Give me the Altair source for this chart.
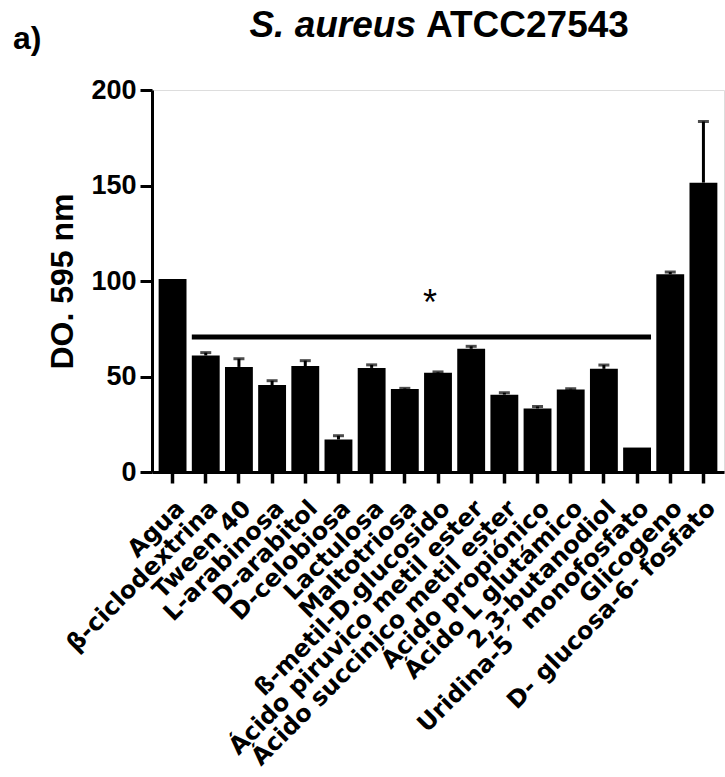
import altair as alt
import pandas as pd

categories = ["Agua", "β-ciclodextrina", "Tween 40", "L-arabinosa", "D-arabitol",
              "D-celobiosa", "Lactulosa", "Maltotriosa", "ß-metil-D.glucosido",
              "Ácido piruvico metil ester", "Ácido succinico metil ester",
              "Ácido propiónico", "Ácido L glutámico", "2,3-butanodiol",
              "Uridina-5´ monofosfato", "Glicogeno", "D- glucosa-6- fosfato"]
means = [101, 61, 55, 45.5, 55.5, 17, 54.5, 43.5, 52, 64.5, 40.5, 33.3, 43.2, 54, 12.8, 103.5, 151.5]
errs = [0, 1.5, 4.3, 2.3, 2.8, 2.0, 1.6, 0.3, 0.4, 1.3, 1.0, 1.0, 0.4, 2.0, 0, 1.2, 32]

sig_start = "β-ciclodextrina"
sig_end = "Uridina-5´ monofosfato"
sig_y = 70.7
star_cat = "ß-metil-D.glucosido"
star_y = 82

df = pd.DataFrame({"cat": categories, "mean": means, "err": errs})
df["top"] = df["mean"] + df["err"]

xscale = alt.Scale(domain=categories, paddingInner=0.16, paddingOuter=0.2)
yscale = alt.Scale(domain=[0, 200], nice=False)

x_enc = alt.X("cat:N", scale=xscale, sort=categories, title=None,
              axis=alt.Axis(labelAngle=-45, labelFont="DejaVu Sans", labelFontWeight="bold",
                            labelFontSize=24, labelColor="black", labelPadding=13,
                            domainColor="black", domainWidth=3, tickColor="black",
                            tickWidth=3.5, tickSize=11, labelLimit=500))
y_enc = alt.Y("mean:Q", scale=yscale, title="DO. 595 nm",
              axis=alt.Axis(values=[0, 50, 100, 150, 200], labelFont="Liberation Sans",
                            labelFontWeight="bold", labelFontSize=27, labelColor="black",
                            labelPadding=4, domainColor="black", domainWidth=3,
                            tickColor="black", tickWidth=3, tickSize=12, grid=False,
                            titleFont="Liberation Sans", titleFontWeight="bold",
                            titleFontSize=32, titleColor="black", titleX=-90,
                            titleBaseline="middle"))

base = alt.Chart(df)
bars = base.mark_bar(color="black").encode(x=x_enc, y=y_enc)
err_df = df[df["err"] > 0]
stems = alt.Chart(err_df).mark_rule(color="black", strokeWidth=3).encode(
    x=alt.X("cat:N", scale=xscale, sort=categories), y="mean:Q", y2="top:Q")
caps = alt.Chart(err_df).mark_tick(color="black", thickness=3, size=11, orient="horizontal").encode(
    x=alt.X("cat:N", scale=xscale, sort=categories), y=alt.Y("top:Q", scale=yscale))

sig = alt.Chart(pd.DataFrame({"a": [sig_start], "b": [sig_end], "y": [sig_y]})).mark_rule(
    color="black", strokeWidth=5).encode(
    x=alt.X("a:N", scale=xscale, bandPosition=0),
    x2=alt.X2("b:N", bandPosition=1),
    y=alt.Y("y:Q", scale=yscale))
star = alt.Chart(pd.DataFrame({"c": [star_cat], "y": [star_y], "t": ["*"]})).mark_text(
    font="Liberation Sans", fontSize=36, color="black", dx=-8, baseline="alphabetic").encode(
    x=alt.X("c:N", scale=xscale), y=alt.Y("y:Q", scale=yscale), text="t:N")

title1 = alt.Chart(pd.DataFrame({"t": ["S. aureus"]})).mark_text(
    font="Liberation Sans", fontSize=37, fontWeight="bold", fontStyle="italic",
    align="right", baseline="alphabetic", color="black").encode(
    x=alt.value(264), y=alt.value(-53), text="t:N")
title2 = alt.Chart(pd.DataFrame({"t": ["ATCC27543"]})).mark_text(
    font="Liberation Sans", fontSize=37, fontWeight="bold",
    align="left", baseline="alphabetic", color="black").encode(
    x=alt.value(274), y=alt.value(-53), text="t:N")
panel = alt.Chart(pd.DataFrame({"t": ["a)"]})).mark_text(
    font="Liberation Sans", fontSize=32, fontWeight="bold",
    align="left", baseline="alphabetic", color="black").encode(
    x=alt.value(-139), y=alt.value(-41), text="t:N")

chart = alt.layer(bars, stems, caps, sig, star, title1, title2, panel).properties(
    width=572, height=382,
    padding={"left": 152, "top": 90, "right": 1, "bottom": 305},
    autosize=alt.AutoSizeParams(type="none"),
).configure_view(stroke=None).configure(background="white")

chart.save("out.html", embed_options={"renderer": "svg", "actions": False})
